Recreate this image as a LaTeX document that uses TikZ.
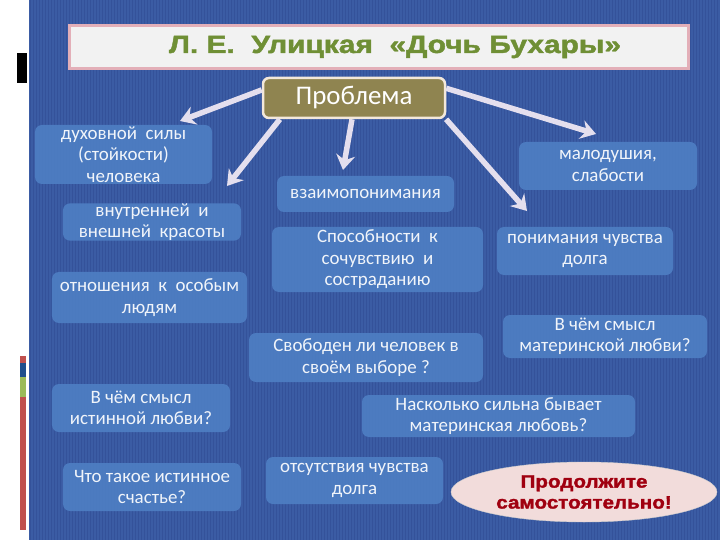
\documentclass[tikz,border=0pt]{standalone}
\usepackage{fontspec}
\setmainfont{Carlito}
\newfontfamily\titlefont[FakeBold=1.6]{Liberation Sans Bold}
\usetikzlibrary{arrows.meta,positioning,shapes.geometric}
\definecolor{SlideBlue}{HTML}{3B5CA4}
\definecolor{SlideStripe}{HTML}{34529A}
\definecolor{BoxBlue}{HTML}{4E7EC3}
\definecolor{ProbOlive}{HTML}{8F8450}
\definecolor{ProbEdge}{HTML}{F3E8DA}
\definecolor{TitleGreen}{HTML}{6F8F35}
\definecolor{TitlePink}{HTML}{E3AFB8}
\definecolor{TitleGrey}{HTML}{F2F2F2}
\definecolor{ArrowLav}{HTML}{E4DFEE}
\definecolor{NoteRed}{HTML}{A00010}
\definecolor{NotePink}{HTML}{F2DCDB}
\definecolor{BarRed}{HTML}{C0504D}
\definecolor{BarBlue}{HTML}{1F4E8C}
\definecolor{BarGreen}{HTML}{9BBB59}

\begin{document}
\begin{tikzpicture}[x=1bp,y=-1bp,>=Latex,
  box/.style={rounded corners=7bp,fill=BoxBlue,fill opacity=.92,text=white,
    align=center,inner sep=0pt,font=\fontsize{19}{21.5}\selectfont},
  link/.style={ArrowLav,line width=5.5bp,
    -{Stealth[length=15bp,width=19bp,inset=5bp]}}]
  \useasboundingbox (0,0) rectangle (720,540);
  % slide background
  \fill[white] (0,0) rectangle (29,540);
  \fill[SlideBlue] (29,0) rectangle (720,540);
  \foreach \sx in {30,33,...,717}
    \fill[SlideStripe] (\sx,0) rectangle ++(1.3,540);
  \fill[black] (17,53) rectangle (27,83);
  \fill[BarRed] (20,356) rectangle (26,363);
  \fill[BarBlue] (20,363) rectangle (26,377);
  \fill[BarGreen] (20,377) rectangle (26,397);
  \fill[BarRed] (20,397) rectangle (26,530);

  % title
  \node[fill=TitleGrey,draw=TitlePink,line width=3bp,minimum width=618bp,
    minimum height=43bp,inner sep=0pt] (title) at (379,47.5) {};
  \node[text=TitleGreen,font=\titlefont\fontsize{25}{28}\selectfont]
    (titletext) at (395,47)
    {\scalebox{1.2}[1]{Л. Е.\ \ Улицкая\ \ «Дочь Бухары»}};

  \node[fill=ProbOlive,draw=ProbEdge,line width=2.5bp,rounded corners=6bp,
    minimum width=182bp,minimum height=40bp,inner sep=0pt,text=white,
    font=\fontsize{27}{30}\selectfont] (prob) at (354,98) {Проблема};

  % answer boxes
  \node[box,minimum width=177bp,minimum height=59bp] (spirit) at (123.5,154.5)
    {духовной\ \ силы\\(стойкости)\\человека};
  \node[box,minimum width=178bp,minimum height=36bp] (beauty) at (152,222)
    {внутренней\ \ и\\внешней\ \ красоты};
  \node[box,minimum width=195bp,minimum height=51bp] (special) at (149.5,297.5)
    {отношения\ \ к\ \ особым\\людям};
  \node[box,minimum width=177bp,minimum height=36bp] (mutual) at (365.5,194)
    {взаимопонимания};
  \node[box,minimum width=211bp,minimum height=65bp] (compassion) at (377.5,259.5)
    {Способности\ \ к\\сочувствию\ \ и\\состраданию};
  \node[box,minimum width=178bp,minimum height=48bp] (weakness) at (608,166)
    {малодушия,\\слабости};
  \node[box,minimum width=176bp,minimum height=48bp] (duty) at (585,251)
    {понимания чувства\\долга};
  \node[box,minimum width=204bp,minimum height=43bp] (motherlove) at (605,336.5)
    {В чём смысл\\материнской любви?};
  \node[box,minimum width=234bp,minimum height=49bp] (freedom) at (366,357.5)
    {Свободен ли человек в\\своём выборе ?};
  \node[box,minimum width=178bp,minimum height=48bp] (truelove) at (141,408)
    {В чём смысл\\истинной любви?};
  \node[box,minimum width=178bp,minimum height=48bp] (happiness) at (152,487)
    {Что такое истинное\\счастье?};
  \node[box,minimum width=177bp,minimum height=47bp] (noduty) at (354.5,480.5)
    {отсутствия чувства\\долга};
  \node[box,minimum width=273bp,minimum height=42bp] (strength) at (498.5,416)
    {Насколько сильна бывает\\материнская любовь?};

  \node[ellipse,fill=NotePink,draw=black!20,minimum width=266bp,
    minimum height=60bp,inner sep=0pt,text=NoteRed,align=center,
    font=\titlefont\fontsize{18}{21}\selectfont] (goon) at (584,492)
    {\scalebox{1.15}[1]{Продолжите}\\\scalebox{1.15}[1]{самостоятельно!}};

  % arrows from the problem
  \coordinate (tipspirit) at (180,121);
  \coordinate (tipbeauty) at (227,186);
  \coordinate (tipmutual) at (343,170);
  \coordinate (tipduty) at (527,211);
  \coordinate (tipweak) at (596,134);
  \draw[link] (prob.175) -- (tipspirit);
  \draw[link] (prob.196) -- (tipbeauty);
  \draw[link] ([xshift=-2bp]prob.south) -- (tipmutual);
  \draw[link] (prob.-13) -- (tipduty);
  \draw[link] (prob.6) -- (tipweak);
\end{tikzpicture}
\end{document}
